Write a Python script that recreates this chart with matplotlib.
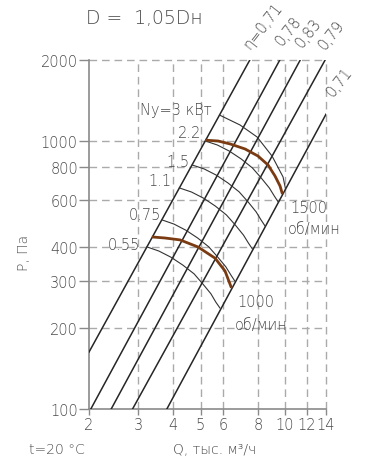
import matplotlib
matplotlib.use("Agg")
import matplotlib.pyplot as plt
from matplotlib.ticker import FixedLocator, NullLocator

plt.rcParams['font.family'] = ['DejaVu Sans']
plt.rcParams['font.weight'] = 'light'

# ---- data ----
x_ticks = [2, 3, 4, 5, 6, 8, 10, 12, 14]
x_ticklabels = ["2", "3", "4", "5", "6", "8", "10", "12", "14"]
y_ticks = [100, 200, 300, 400, 600, 800, 1000, 2000]
y_ticklabels = ["100", "200", "300", "400", "600", "800", "1000", "2000"]
x_grid = [3, 4, 5, 6, 8, 10, 12, 14]
y_grid = [200, 300, 400, 600, 800, 1000, 2000]

# efficiency (system) lines: endpoints (Q, P)
eta_Q = [[2.0, 7.49], [2.03, 9.58], [2.40, 11.33], [2.86, 13.9], [3.79, 14.0]]
eta_P = [[163, 2000], [100, 2000], [100, 2000], [100, 2000], [100, 1256]]
eta_labels = ["η=0,71", "0,78", "0,83", "0,79", "0,71"]
eta_label_Q = [7.63, 9.92, 11.78, 14.12, 15.2]
eta_label_P = [2161, 2217, 2179, 2142, 1431]

# motor power curves (thin)
pow_labels = ["Ny=3 кВт", "2.2", "1.5", "1.1", "0.75", "0.55"]
pow_Q = [
    [5.84, 6.91, 7.95, 8.99, 9.84, 10.04],
    [5.20, 5.74, 6.33, 6.98, 7.65, 8.23, 8.79, 9.16, 9.46],
    [4.67, 5.15, 5.68, 6.26, 6.86, 7.39, 7.89, 8.22, 8.49],
    [4.20, 4.64, 5.12, 5.64, 6.18, 6.65, 7.11, 7.41, 7.65],
    [3.64, 4.02, 4.43, 4.88, 5.35, 5.76, 6.15, 6.41, 6.62],
    [3.22, 3.55, 3.92, 4.32, 4.74, 5.10, 5.44, 5.67, 5.86],
]
pow_P = [
    [1247, 1145, 1033, 877, 733, 661],
    [998, 964, 915, 855, 792, 726, 667, 622, 591],
    [812, 785, 745, 696, 645, 591, 543, 506, 481],
    [667, 644, 611, 571, 529, 485, 445, 415, 395],
    [507, 489, 464, 434, 402, 368, 339, 316, 300],
    [402, 388, 368, 344, 319, 292, 269, 250, 238],
]
pow_label_Q = [3.05, 5.02, 4.58, 3.95, 3.61, 3.04]
pow_label_P = [1313, 1078, 840, 708, 533, 412]

# fan characteristics (brown)
n1500_Q = [5.19, 5.77, 6.37, 7.20, 8.01, 8.70, 9.21, 9.60, 9.79]
n1500_P = [1005, 998, 973, 932, 877, 812, 739, 678, 633]
n1000_Q = [3.35, 3.73, 4.22, 4.89, 5.63, 6.11, 6.44]
n1000_P = [438, 434, 427, 402, 365, 327, 283]

# ---- figure ----
fig = plt.figure(figsize=(3.75, 4.6), dpi=100)
ax = fig.add_axes([89/375, 1-410/460, (326-89)/375, (410-61)/460])
ax.set_xscale('log')
ax.set_yscale('log')
ax.set_xlim(2, 14)
ax.set_ylim(100, 2000)

tcol = '#4a4a4a'
gcol = '#aaaaaa'
dash = (0, (5.5, 3.5))
for y in y_grid:
    ax.axhline(y, color=gcol, lw=1.0, ls=dash, clip_on=False, zorder=1)
for x in x_grid:
    ax.axvline(x, color=gcol, lw=1.0, ls=dash, clip_on=False, zorder=1)

for s in ['top', 'right']:
    ax.spines[s].set_visible(False)
for s in ['left', 'bottom']:
    ax.spines[s].set_color('#8a8a8a')
    ax.spines[s].set_linewidth(1.2)

ax.xaxis.set_major_locator(FixedLocator(x_ticks))
ax.xaxis.set_minor_locator(NullLocator())
ax.set_xticklabels(x_ticklabels)
ax.yaxis.set_major_locator(FixedLocator(y_ticks))
ax.yaxis.set_minor_locator(NullLocator())
ax.set_yticklabels(y_ticklabels)
ax.tick_params(axis='y', length=7, width=1, color='#8a8a8a', labelsize=10.5,
               labelcolor=tcol, pad=1)
ax.tick_params(axis='x', length=4, width=1, color='#8a8a8a', labelsize=10.5,
               labelcolor=tcol, pad=2)

# efficiency lines
for q, p in zip(eta_Q, eta_P):
    ax.plot(q, p, color='#262626', lw=1.1, zorder=3)
for lab, q, p in zip(eta_labels, eta_label_Q, eta_label_P):
    ax.text(q, p, lab, rotation=52, rotation_mode='anchor', ha='left', va='bottom',
            fontsize=10.5, color=tcol, clip_on=False)

# power curves
for q, p in zip(pow_Q, pow_P):
    ax.plot(q, p, color='#333333', lw=0.8, zorder=3)
for i, (lab, q, p) in enumerate(zip(pow_labels, pow_label_Q, pow_label_P)):
    ax.text(q, p, lab, ha='left' if i == 0 else 'right', va='center',
            fontsize=10.5, color=tcol)

# fan curves
brown = '#7a3b12'
ax.plot(n1500_Q, n1500_P, color=brown, lw=2.0, zorder=4, solid_capstyle='butt')
ax.plot(n1000_Q, n1000_P, color=brown, lw=2.0, zorder=4, solid_capstyle='butt')

ax.text(10.42, 566, "1500", ha='left', va='center', fontsize=10.5, color=tcol)
ax.text(10.25, 469, "об/мин", ha='left', va='center', fontsize=10.5, color=tcol)
ax.text(6.74, 251, "1000", ha='left', va='center', fontsize=10.5, color=tcol)
ax.text(6.63, 207, "об/мин", ha='left', va='center', fontsize=10.5, color=tcol)

# titles / axis labels
fig.text(86/375, 1-19/460, "D =  1,05Dн", ha='left', va='center', fontsize=13.5, color=tcol)
fig.text(24/375, 1-253/460, "P, Па", rotation=90, ha='center', va='center', fontsize=10, color=tcol)
fig.text(215/375, 1-450/460, "Q, тыс. м³/ч", ha='center', va='center', fontsize=10, color=tcol)
fig.text(29/375, 1-450/460, "t=20 °C", ha='left', va='center', fontsize=10, color=tcol)

fig.savefig("out.png", dpi=100)
